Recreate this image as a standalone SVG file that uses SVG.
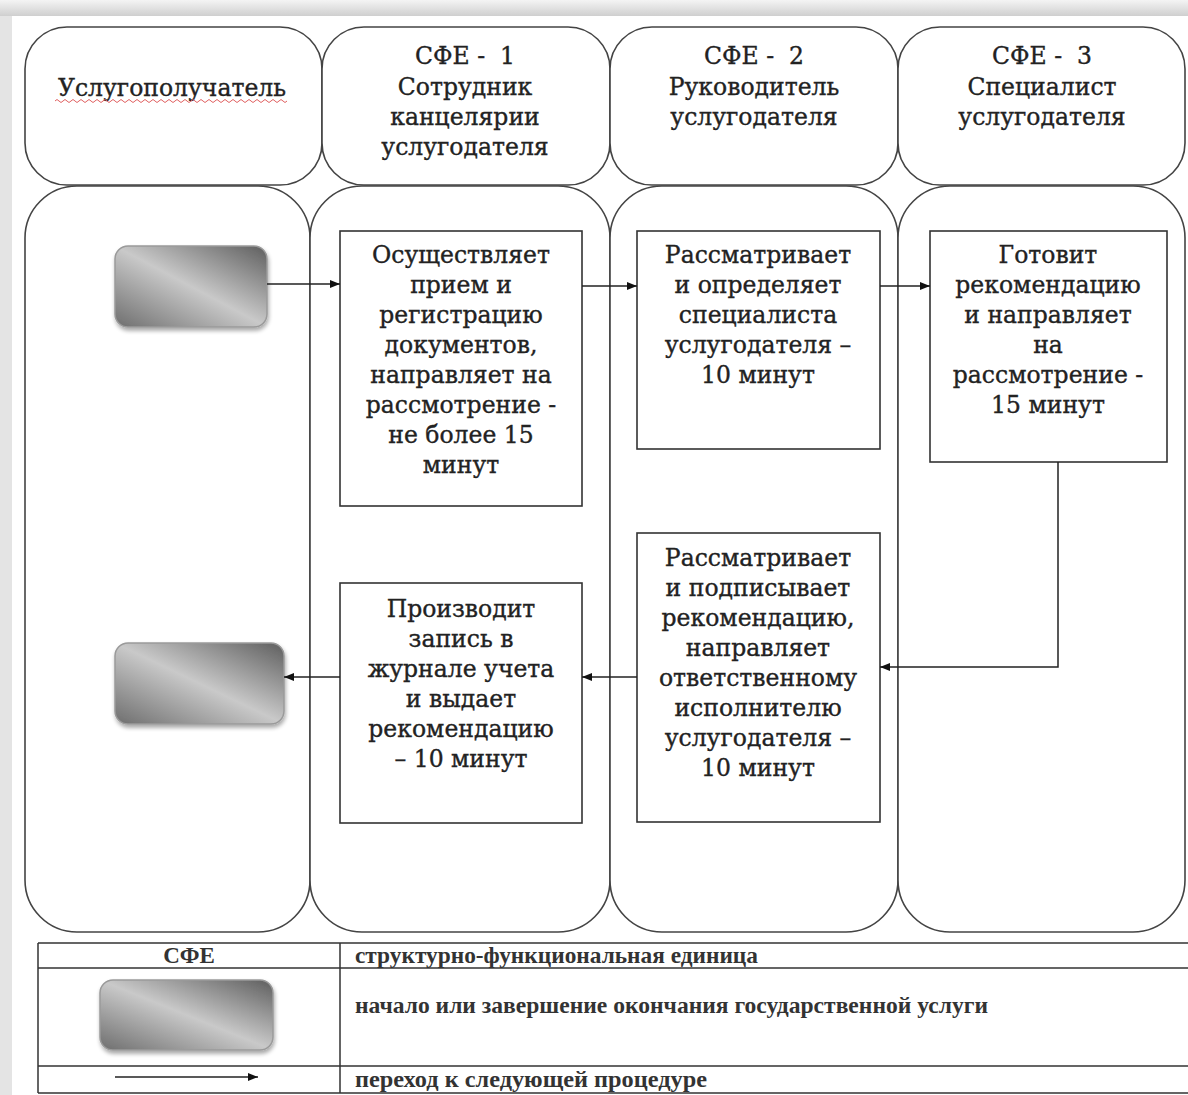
<svg xmlns="http://www.w3.org/2000/svg" width="1188" height="1095" viewBox="0 0 1188 1095">
<defs>
<linearGradient id="term" x1="0" y1="1" x2="1" y2="0">
<stop offset="0" stop-color="#6e6e6e"/>
<stop offset="0.5" stop-color="#c9c9c9"/>
<stop offset="1" stop-color="#5e5e5e"/>
</linearGradient>
<linearGradient id="topband" x1="0" y1="0" x2="0" y2="1">
<stop offset="0" stop-color="#f4f4f4"/>
<stop offset="1" stop-color="#cfcfcf"/>
</linearGradient>
<filter id="sh" x="-10%" y="-10%" width="130%" height="140%">
<feGaussianBlur in="SourceAlpha" stdDeviation="2"/>
<feOffset dx="1" dy="3"/>
<feComponentTransfer><feFuncA type="linear" slope="0.35"/></feComponentTransfer>
<feMerge><feMergeNode/><feMergeNode in="SourceGraphic"/></feMerge>
</filter>
<marker id="arr" viewBox="0 0 10 10" refX="10" refY="5" markerWidth="10" markerHeight="10" markerUnits="userSpaceOnUse" orient="auto">
<path d="M0,1 L10,5 L0,9 z" fill="#111"/>
</marker>
<style>
.lane{fill:#fff;stroke:#444;stroke-width:1.6}
.box{fill:#fff;stroke:#333;stroke-width:1.6}
.term{fill:url(#term);stroke:#9a9a9a;stroke-width:1.5}
.t{font-family:"DejaVu Serif","Liberation Serif",serif;font-size:23.5px;fill:#222;stroke:#222;stroke-width:0.35;text-anchor:middle;white-space:pre}
.lg{font-family:"Liberation Serif","DejaVu Serif",serif;font-size:23px;font-weight:bold;fill:#333}
.conn{fill:none;stroke:#222;stroke-width:1.5}
.grid{fill:none;stroke:#333;stroke-width:1.5}
</style>
</defs>
<rect x="0" y="0" width="1188" height="1095" fill="#e4e4e4"/>
<rect x="0" y="0" width="1188" height="16" fill="url(#topband)"/>
<rect x="12" y="16" width="1176" height="1079" fill="#fff"/>

<g id="header-1"><rect class="lane" x="25" y="27" width="297" height="158" rx="42"/>
<text class="t" x="172" y="96">Услугополучатель</text>
<path d="M55,101 q2,-3 4,0 t4,0 t4,0 t4,0 t4,0 t4,0 t4,0 t4,0 t4,0 t4,0 t4,0 t4,0 t4,0 t4,0 t4,0 t4,0 t4,0 t4,0 t4,0 t4,0 t4,0 t4,0 t4,0 t4,0 t4,0 t4,0 t4,0 t4,0 t4,0 t4,0 t4,0 t4,0 t4,0 t4,0 t4,0 t4,0 t4,0 t4,0 t4,0 t4,0 t4,0 t4,0 t4,0 t4,0 t4,0 t4,0 t4,0 t4,0 t4,0 t4,0 t4,0 t4,0 t4,0 t4,0 t4,0 t4,0 t4,0 t4,0" fill="none" stroke="#e06060" stroke-width="1"/>
</g>
<g id="header-2"><rect class="lane" x="322" y="27" width="288" height="158" rx="42"/>
<text class="t" x="465" y="64">СФЕ -  1</text>
<text class="t" x="465" y="95">Сотрудник</text>
<text class="t" x="465" y="125">канцелярии</text>
<text class="t" x="465" y="155">услугодателя</text>
</g>
<g id="header-3"><rect class="lane" x="610" y="27" width="288" height="158" rx="42"/>
<text class="t" x="754" y="64">СФЕ -  2</text>
<text class="t" x="754" y="95">Руководитель</text>
<text class="t" x="754" y="125">услугодателя</text>
</g>
<g id="header-4"><rect class="lane" x="898" y="27" width="287" height="158" rx="42"/>
<text class="t" x="1042" y="64">СФЕ -  3</text>
<text class="t" x="1042" y="95">Специалист</text>
<text class="t" x="1042" y="125">услугодателя</text>
</g>

<g id="lane-1"><rect class="lane" x="25" y="186" width="285" height="746" rx="52"/></g>
<g id="lane-2"><rect class="lane" x="310" y="186" width="300" height="746" rx="52"/></g>
<g id="lane-3"><rect class="lane" x="610" y="186" width="288" height="746" rx="52"/></g>
<g id="lane-4"><rect class="lane" x="898" y="186" width="287" height="746" rx="52"/></g>

<g id="start"><rect class="term" x="115" y="246" width="152" height="81" rx="13" filter="url(#sh)"/></g>
<g id="end"><rect class="term" x="115" y="643" width="169" height="81" rx="13" filter="url(#sh)"/></g>

<g id="step-1"><rect class="box" x="340" y="231" width="242" height="275"/>
<text class="t" x="461" y="263">Осуществляет</text>
<text class="t" x="461" y="293">прием и</text>
<text class="t" x="461" y="323">регистрацию</text>
<text class="t" x="461" y="353">документов,</text>
<text class="t" x="461" y="383">направляет на</text>
<text class="t" x="461" y="413">рассмотрение -</text>
<text class="t" x="461" y="443">не более 15</text>
<text class="t" x="461" y="473">минут</text>
</g>
<g id="step-2"><rect class="box" x="637" y="231" width="243" height="218"/>
<text class="t" x="758" y="263">Рассматривает</text>
<text class="t" x="758" y="293">и определяет</text>
<text class="t" x="758" y="323">специалиста</text>
<text class="t" x="758" y="353">услугодателя –</text>
<text class="t" x="758" y="383">10 минут</text>
</g>
<g id="step-3"><rect class="box" x="930" y="231" width="237" height="231"/>
<text class="t" x="1048" y="263">Готовит</text>
<text class="t" x="1048" y="293">рекомендацию</text>
<text class="t" x="1048" y="323">и направляет</text>
<text class="t" x="1048" y="353">на</text>
<text class="t" x="1048" y="383">рассмотрение -</text>
<text class="t" x="1048" y="413">15 минут</text>
</g>
<g id="step-4"><rect class="box" x="637" y="533" width="243" height="289"/>
<text class="t" x="758" y="566">Рассматривает</text>
<text class="t" x="758" y="596">и подписывает</text>
<text class="t" x="758" y="626">рекомендацию,</text>
<text class="t" x="758" y="656">направляет</text>
<text class="t" x="758" y="686">ответственному</text>
<text class="t" x="758" y="716">исполнителю</text>
<text class="t" x="758" y="746">услугодателя –</text>
<text class="t" x="758" y="776">10 минут</text>
</g>
<g id="step-5"><rect class="box" x="340" y="583" width="242" height="240"/>
<text class="t" x="461" y="617">Производит</text>
<text class="t" x="461" y="647">запись в</text>
<text class="t" x="461" y="677">журнале учета</text>
<text class="t" x="461" y="707">и выдает</text>
<text class="t" x="461" y="737">рекомендацию</text>
<text class="t" x="461" y="767">– 10 минут</text>
</g>

<g id="connectors">
<path class="conn" d="M267,284 L340,284" marker-end="url(#arr)"/>
<path class="conn" d="M582,286 L637,286" marker-end="url(#arr)"/>
<path class="conn" d="M880,286 L930,286" marker-end="url(#arr)"/>
<path class="conn" d="M1058,462 L1058,667 L880,667" marker-end="url(#arr)"/>
<path class="conn" d="M637,677 L582,677" marker-end="url(#arr)"/>
<path class="conn" d="M340,677 L284,677" marker-end="url(#arr)"/>
</g>

<g id="legend">
<path class="grid" d="M38,943 H1188 M38,968 H1188 M38,1066 H1188 M38,1093 H1188 M38,943 V1093 M340,943 V1093"/>
<text class="lg" x="189" y="963" text-anchor="middle">СФЕ</text>
<text class="lg" x="355" y="963" textLength="403" lengthAdjust="spacingAndGlyphs">структурно-функциональная единица</text>
<rect class="term" x="100" y="980" width="173" height="70" rx="13" filter="url(#sh)"/>
<text class="lg" x="355" y="1013" textLength="633" lengthAdjust="spacingAndGlyphs">начало или завершение окончания государственной услуги</text>
<path class="conn" d="M115,1077 L258,1077" marker-end="url(#arr)"/>
<text class="lg" x="355" y="1087" textLength="352" lengthAdjust="spacingAndGlyphs">переход к следующей процедуре</text>
</g>
</svg>
